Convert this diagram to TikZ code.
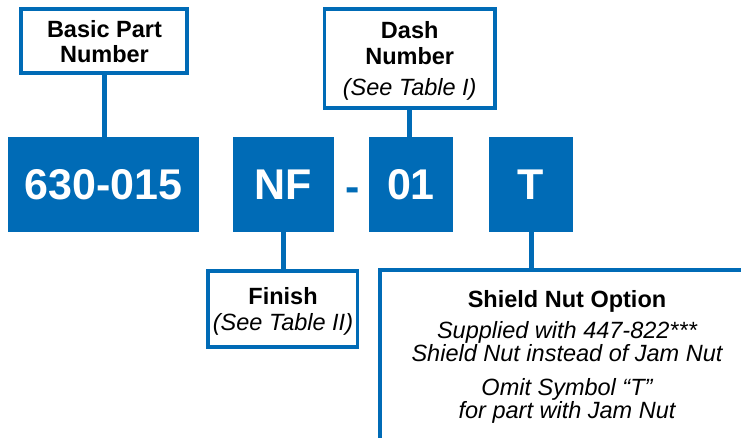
\documentclass[tikz,border=0pt]{standalone}
\usepackage{fontspec}
\setmainfont{Liberation Sans}
\definecolor{pblue}{RGB}{0,107,182}
\begin{document}
\begin{tikzpicture}[x=1pt,y=-1pt,
  codebox/.style={fill=pblue,draw=none,inner sep=0,text=white,
    font=\fontsize{43}{45}\selectfont\bfseries,minimum height=95pt},
  labelbox/.style={draw=pblue,line width=3.7pt,fill=white,inner sep=0},
  conn/.style={draw=pblue,line width=5pt},
  lbl/.style={inner sep=0,anchor=base,font=\fontsize{23.5}{25}\selectfont\bfseries},
  itl/.style={inner sep=0,anchor=base,font=\fontsize{23.5}{25}\selectfont\itshape}]
\useasboundingbox (0,0) rectangle (741,438);
% code boxes
\node[codebox,minimum width=191pt] (pn) at (103.5,184.5) {630-015};
\node[codebox,minimum width=101pt] (nf) at (283.5,184.5) {NF};
\node[inner sep=0,anchor=base,text=pblue,font=\fontsize{43}{45}\selectfont\bfseries] (hy) at (352.8,201.5) {-};
\node[codebox,minimum width=84pt] (dn) at (411,184.5) {01};
\node[codebox,minimum width=84pt] (tt) at (531,184.5) {T};
% label boxes
\node[labelbox,minimum width=166.2pt,minimum height=64pt] (basic) at (104,41.1) {};
\node[labelbox,minimum width=170.2pt,minimum height=99pt] (dash) at (409.7,58.7) {};
\node[labelbox,minimum width=149.5pt,minimum height=75.6pt] (fin) at (282.6,309) {};
\coordinate (shA) at (380.3,440);
\coordinate (shB) at (380.3,270.3);
\coordinate (shC) at (745,270.3);
% connectors
\draw[conn] (basic.south) -- (basic.south |- pn.north);
\draw[conn] (dash.south) -- (dash.south |- dn.north);
\draw[conn] (nf.south) -- (nf.south |- fin.north);
\draw[conn] (tt.south) -- (tt.south |- shB);
\draw[draw=pblue,line width=3.7pt] (shA) -- (shB) -- (shC);
% texts
\node[lbl] (t1) at (104.5,37.3) {Basic Part};
\node[lbl] (t2) at (104.5,62.3) {Number};
\node[lbl] (t3) at (409.7,39) {Dash};
\node[lbl] (t4) at (409.7,65) {Number};
\node[itl] (t5) at (409.7,96) {(See Table I)};
\node[lbl] (t6) at (283,304) {Finish};
\node[itl] (t7) at (283,330) {(See Table II)};
\node[lbl] (t8) at (567,307) {Shield Nut Option};
\node[itl] (t9) at (567,338) {Supplied with 447-822***};
\node[itl] (t10) at (567,361) {Shield Nut instead of Jam Nut};
\node[itl] (t11) at (567,395) {Omit Symbol “T”};
\node[itl] (t12) at (567,418) {for part with Jam Nut};
\end{tikzpicture}
\end{document}
